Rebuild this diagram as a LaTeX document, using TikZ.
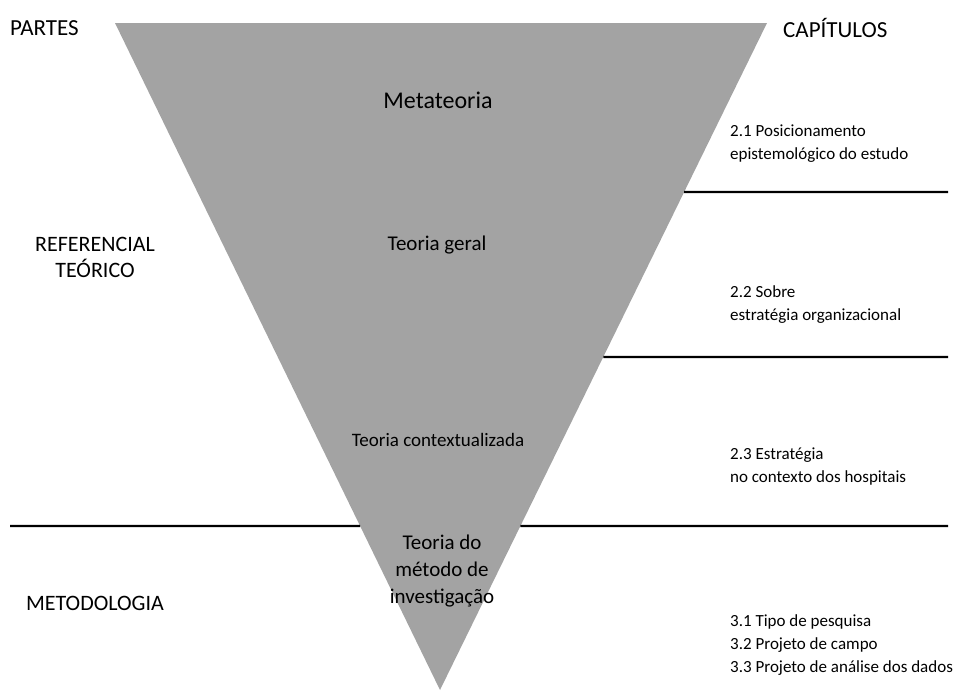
\documentclass[tikz,border=0pt]{standalone}
\usepackage{fontspec}
\setmainfont{Carlito}
\usetikzlibrary{calc}
\begin{document}
\begin{tikzpicture}[x=1pt,y=-1pt,
  tri/.style={fill=black!36},
  sep/.style={draw=black,line width=2.4pt},
  head/.style={anchor=west,inner sep=0pt,font=\fontsize{23}{27}\selectfont},
  part/.style={inner sep=0pt,align=center,font=\fontsize{22}{26}\selectfont},
  level/.style={inner sep=0pt,align=center},
  chap/.style={anchor=west,inner sep=0pt,align=left,font=\fontsize{17}{23}\selectfont}]
\useasboundingbox (0,0) rectangle (979,691);

% inverted triangle of theory levels
\coordinate (tl) at (115,23);
\coordinate (tr) at (767,23);
\coordinate (ap) at (440,690);
\fill[tri] (tl) -- (tr) -- (ap) -- cycle;

% separators between chapter groups
\coordinate (r1) at ($(tr)!0.2534!(ap)$);
\coordinate (r2) at ($(tr)!0.5007!(ap)$);
\coordinate (r3) at ($(tr)!0.7541!(ap)$);
\coordinate (l3) at ($(tl)!0.7541!(ap)$);
\coordinate (e1) at (948,192);
\coordinate (e2) at (948,357);
\coordinate (e3) at (948,526);
\coordinate (s3) at (10,526);
\draw[sep] (r1) -- (e1);
\draw[sep] (r2) -- (e2);
\draw[sep] (r3) -- (e3);
\draw[sep] (s3) -- (l3);

% column headings
\node[head] (partes) at (10,28) {PARTES};
\node[head] (capitulos) at (783,28) {CAPÍTULOS};

% parts
\node[part] (ref) at (95,257) {REFERENCIAL\\TEÓRICO};
\node[part] (met) at (95,603) {METODOLOGIA};

% levels inside the triangle
\node[level,font=\fontsize{24}{28}\selectfont] (meta) at (438,100) {Metateoria};
\node[level,font=\fontsize{21}{26}\selectfont] (geral) at (437,245) {Teoria geral};
\node[level,font=\fontsize{19}{24}\selectfont] (ctx) at (438,440) {Teoria contextualizada};
\node[level,font=\fontsize{21}{27}\selectfont] (metodo) at (442,571) {Teoria do\\método de\\investigação};

% chapters
\node[chap] (c21) at (730,144) {2.1 Posicionamento\\epistemológico do estudo};
\node[chap] (c22) at (730,305) {2.2 Sobre\\estratégia organizacional};
\node[chap] (c23) at (730,467) {2.3 Estratégia\\no contexto dos hospitais};
\node[chap] (c3) at (730,645) {3.1 Tipo de pesquisa\\3.2 Projeto de campo\\3.3 Projeto de análise dos dados};
\end{tikzpicture}
\end{document}
